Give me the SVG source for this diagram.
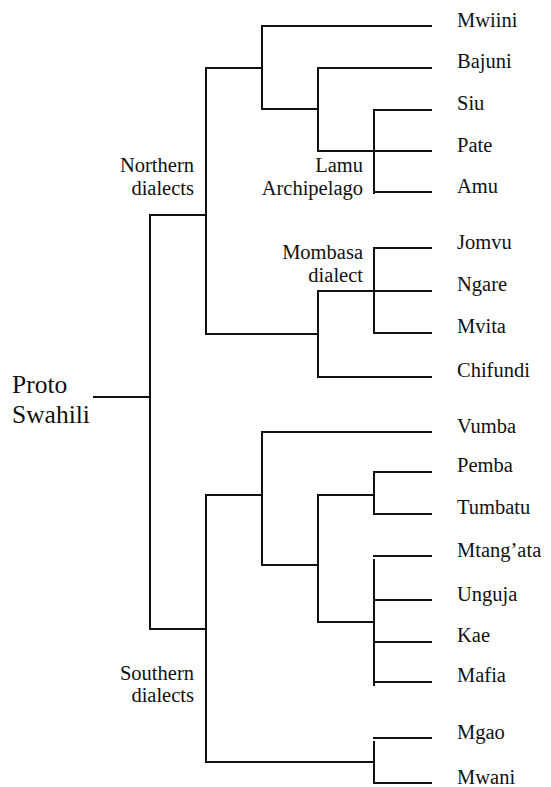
<svg xmlns="http://www.w3.org/2000/svg" width="551" height="787" viewBox="0 0 551 787">
<style>
  .ln { stroke: #111; stroke-width: 2; fill: none; stroke-linecap: square; }
  .leaf { font-family: "Liberation Serif", "DejaVu Serif", serif; font-size: 20.5px; fill: #111; }
  .grp { font-family: "Liberation Serif", "DejaVu Serif", serif; font-size: 20.5px; fill: #111; text-anchor: end; }
  .root { font-family: "Liberation Serif", "DejaVu Serif", serif; font-size: 25.5px; fill: #111; }
</style>
<rect width="551" height="787" fill="#fff"/>
<g id="connectors" class="ln">
  <path d="M94,397 H150 M150,215 V629"/>
  <path d="M150,215 H206 M206,68 V334"/>
  <path d="M206,68 H262 M262,26 V109"/>
  <path d="M262,26 H431"/>
  <path d="M262,109 H318 M318,68 V151"/>
  <path d="M318,68 H431"/>
  <path d="M318,151 H374 M374,110 V193"/>
  <path d="M374,110 H431 M374,151 H431 M374,192 H431"/>
  <path d="M206,334 H318 M318,291 V377"/>
  <path d="M318,291 H374 M374,248 V333"/>
  <path d="M374,248 H431 M374,291 H431 M374,333 H431"/>
  <path d="M318,377 H431"/>
  <path d="M150,629 H206 M206,495 V762"/>
  <path d="M206,495 H262 M262,432 V565"/>
  <path d="M262,432 H431"/>
  <path d="M262,565 H318 M318,495 V622"/>
  <path d="M318,495 H374 M374,472 V514"/>
  <path d="M374,472 H431 M374,514 H431"/>
  <path d="M318,622 H374 M374,560 V685"/>
  <path d="M374,556 H431 M374,600 H431 M374,642 H431 M374,682 H431"/>
  <path d="M206,762 H374 M374,742 V783"/>
  <path d="M374,738 H431 M374,783 H431"/>
</g>
<g id="proto-swahili"><text class="root" x="12" y="393">Proto</text><text class="root" x="12" y="423">Swahili</text></g>
<g id="northern"><text class="grp" x="194" y="172">Northern</text><text class="grp" x="194" y="195">dialects</text></g>
<g id="lamu"><text class="grp" x="363" y="172">Lamu</text><text class="grp" x="363" y="195">Archipelago</text></g>
<g id="mombasa"><text class="grp" x="363" y="259">Mombasa</text><text class="grp" x="363" y="282">dialect</text></g>
<g id="southern"><text class="grp" x="194" y="680">Southern</text><text class="grp" x="194" y="702">dialects</text></g>
<g id="mwiini"><text class="leaf" x="457" y="27">Mwiini</text></g>
<g id="bajuni"><text class="leaf" x="457" y="68">Bajuni</text></g>
<g id="siu"><text class="leaf" x="457" y="110">Siu</text></g>
<g id="pate"><text class="leaf" x="457" y="152">Pate</text></g>
<g id="amu"><text class="leaf" x="457" y="193">Amu</text></g>
<g id="jomvu"><text class="leaf" x="457" y="249">Jomvu</text></g>
<g id="ngare"><text class="leaf" x="457" y="291">Ngare</text></g>
<g id="mvita"><text class="leaf" x="457" y="333">Mvita</text></g>
<g id="chifundi"><text class="leaf" x="457" y="377">Chifundi</text></g>
<g id="vumba"><text class="leaf" x="457" y="433">Vumba</text></g>
<g id="pemba"><text class="leaf" x="457" y="472">Pemba</text></g>
<g id="tumbatu"><text class="leaf" x="457" y="514">Tumbatu</text></g>
<g id="mtangata"><text class="leaf" x="457" y="557">Mtang’ata</text></g>
<g id="unguja"><text class="leaf" x="457" y="601">Unguja</text></g>
<g id="kae"><text class="leaf" x="457" y="642">Kae</text></g>
<g id="mafia"><text class="leaf" x="457" y="682">Mafia</text></g>
<g id="mgao"><text class="leaf" x="457" y="739">Mgao</text></g>
<g id="mwani"><text class="leaf" x="457" y="784">Mwani</text></g>
</svg>
